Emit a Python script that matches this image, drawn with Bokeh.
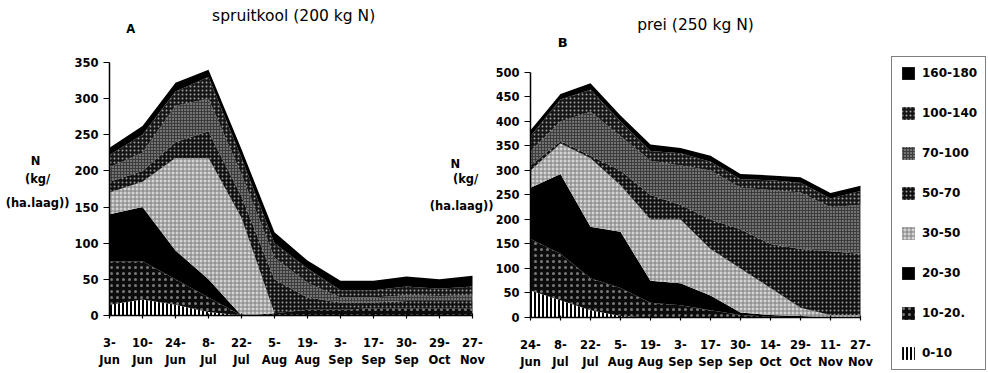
from bokeh.plotting import figure
from bokeh.models import ColumnDataSource, Range1d, FixedTicker, Label, Legend, LegendItem
from bokeh.layouts import row
from bokeh.embed import file_html
from bokeh.resources import INLINE

# ---------------- data ----------------
dates_a = ["3-\nJun", "10-\nJun", "24-\nJun", "8-\nJul", "22-\nJul", "5-\nAug",
           "19-\nAug", "3-\nSep", "17-\nSep", "30-\nSep", "29-\nOct", "27-\nNov"]
dates_b = ["24-\nJun", "8-\nJul", "22-\nJul", "5-\nAug", "19-\nAug", "3-\nSep",
           "17-\nSep", "30-\nSep", "14-\nOct", "29-\nOct", "11-\nNov", "27-\nNov"]
layers = ["0-10", "10-20.", "20-30", "30-50", "50-70", "70-100", "100-140", "160-180"]

# spruitkool (200 kg N): N per soil layer (kg/ha.laag), bottom layer first
a_0_10    = [15, 22, 15, 5, 0, 0, 0, 0, 0, 0, 0, 0]
a_10_20   = [60, 53, 35, 20, 0, 3, 8, 8, 10, 10, 10, 10]
a_20_30   = [65, 75, 40, 25, 0, 0, 0, 0, 0, 0, 0, 0]
a_30_50   = [30, 35, 128, 168, 135, 0, 0, 0, 0, 0, 0, 0]
a_50_70   = [15, 15, 22, 37, 30, 47, 17, 10, 8, 10, 10, 10]
a_70_100  = [20, 25, 50, 45, 30, 30, 20, 7, 7, 8, 7, 8]
a_100_140 = [17, 25, 20, 30, 23, 20, 20, 10, 10, 12, 10, 12]
a_160_180 = [10, 12, 12, 10, 12, 15, 11, 13, 13, 14, 13, 15]

# prei (250 kg N)
b_0_10    = [55, 35, 15, 3, 0, 0, 0, 0, 0, 0, 0, 0]
b_10_20   = [105, 95, 65, 57, 30, 25, 15, 5, 2, 0, 0, 0]
b_20_30   = [105, 163, 105, 115, 45, 45, 30, 5, 3, 3, 0, 0]
b_30_50   = [35, 62, 140, 95, 125, 130, 95, 90, 55, 17, 5, 5]
b_50_70   = [10, 5, 5, 30, 50, 30, 60, 80, 90, 120, 130, 125]
b_70_100  = [30, 40, 90, 70, 70, 80, 100, 85, 110, 115, 90, 100]
b_100_140 = [30, 45, 45, 30, 20, 25, 18, 17, 20, 20, 18, 28]
b_160_180 = [12, 11, 13, 12, 13, 11, 12, 11, 10, 11, 11, 11]

ticks_a = [0, 50, 100, 150, 200, 250, 300, 350]
ticks_b = [0, 50, 100, 150, 200, 250, 300, 350, 400, 450, 500]

# ---------------- styles ----------------
keys = ["l0", "l1", "l2", "l3", "l4", "l5", "l6", "l7"]
fills   = ["white", "#0c0c0c", "black", "#d4d4d4", "#111111", "#3c3c3c", "#161616", "black"]
hatches = ["vertical_line", "dot", " ", "cross", "dot", "dot", "dot", " "]
hcolors = ["black", "#7a7a7a", "black", "#7c7c7c", "#9a9a9a", "#c4c4c4", "#a0a0a0", "black"]
hscales = [4.0, 6.0, 4.0, 4.0, 4.0, 3.0, 4.0, 4.0]
hweights = [2.0, 1.3, 1.0, 1.0, 1.2, 1.3, 1.2, 1.0]

FONT = "DejaVu Sans"


def style_axes(p, yticks, dates):
    p.xaxis.ticker = FixedTicker(ticks=list(range(len(dates))))
    p.xaxis.major_label_overrides = {i: d for i, d in enumerate(dates)}
    p.yaxis.ticker = FixedTicker(ticks=yticks)
    p.xaxis.fixed_location = 0
    p.yaxis.fixed_location = 0
    p.xaxis.bounds = (0, len(dates) - 1)
    p.yaxis.bounds = (0, yticks[-1])
    for ax in (p.xaxis, p.yaxis):
        ax.axis_line_color = "black"
        ax.axis_line_width = 1.5
        ax.major_tick_line_color = "black"
        ax.major_tick_line_width = 1.2
        ax.minor_tick_line_color = None
        ax.major_label_text_font = FONT
        ax.major_label_text_font_style = "bold"
        ax.major_label_text_font_size = "11.5px"
        ax.major_label_text_color = "black"
    p.xaxis.major_tick_in = 2
    p.xaxis.major_tick_out = 3
    p.xaxis.major_label_standoff = 18
    p.yaxis.major_tick_in = 0
    p.yaxis.major_tick_out = 6
    p.yaxis.major_label_standoff = 5
    p.xgrid.grid_line_color = None
    p.ygrid.grid_line_color = None
    p.outline_line_color = None
    p.min_border = 0


def add_areas(p, cols, n):
    src = ColumnDataSource(dict(x=list(range(n)), **{k: c for k, c in zip(keys, cols)}))
    return p.varea_stack(stackers=keys, x="x", source=src,
                         fill_color=fills, hatch_pattern=hatches,
                         hatch_color=hcolors, hatch_scale=hscales,
                         hatch_weight=hweights)


def txt(p, x, y, s, size, bold=False, align="center"):
    p.add_layout(Label(x=x, y=y, text=s, text_font=FONT, text_font_size=size,
                       text_font_style="bold" if bold else "normal",
                       text_align=align, text_baseline="middle", text_color="black"))


# ---------------- chart A (frame fills canvas; axes fixed at 0) ----------------
pa = figure(width=496, height=373, x_range=Range1d(-3.303, 11.727),
            y_range=Range1d(-80.24, 435.77),
            toolbar_location=None, output_backend="svg",
            min_border_left=0, min_border_right=0, min_border_top=0, min_border_bottom=0)
add_areas(pa, [a_0_10, a_10_20, a_20_30, a_30_50, a_50_70, a_70_100, a_100_140, a_160_180],
          len(dates_a))
style_axes(pa, ticks_a, dates_a)
txt(pa, 5.58, 415, "spruitkool (200 kg N)", "15.5px")
txt(pa, 0.64, 396, "A", "11.5px", bold=True)
txt(pa, -2.24, 214, "N", "11.5px", bold=True)
txt(pa, -2.18, 189, "(kg/", "11.5px", bold=True)
txt(pa, -2.18, 155, "(ha.laag))", "11.5px", bold=True)
# y label of chart B (it sits in the gap between both charts)
txt(pa, 10.48, 210, "N", "11.5px", bold=True)
txt(pa, 10.79, 189, "(kg/", "11.5px", bold=True)
txt(pa, 10.67, 152, "(ha.laag))", "11.5px", bold=True)

# ---------------- chart B ----------------
pb = figure(width=492, height=373, x_range=Range1d(-1.1333, 15.2667),
            y_range=Range1d(-114.29, 646.94),
            toolbar_location=None, output_backend="svg",
            min_border_left=0, min_border_right=0, min_border_top=0, min_border_bottom=0)
rb = add_areas(pb, [b_0_10, b_10_20, b_20_30, b_30_50, b_50_70, b_70_100, b_100_140, b_160_180],
               len(dates_b))
style_axes(pb, ticks_b, dates_b)
txt(pb, 5.5, 596, "prei (250 kg N)", "15.5px")
txt(pb, 1.07, 561, "B", "13px", bold=True)

items = [LegendItem(label=layers[i], renderers=[rb[i]]) for i in range(len(layers) - 1, -1, -1)]
legend = Legend(items=items, location=(395, 3), orientation="vertical",
                glyph_width=16, glyph_height=16, spacing=24, padding=8,
                label_standoff=6, label_width=55, margin=0,
                label_text_font=FONT, label_text_font_style="bold",
                label_text_font_size="12px", label_text_color="black",
                border_line_color="black", border_line_width=1.5,
                background_fill_color="white", background_fill_alpha=1.0)
pb.add_layout(legend, "center")

layout = row(pa, pb)
open("out.html", "w").write(file_html(layout, INLINE))
